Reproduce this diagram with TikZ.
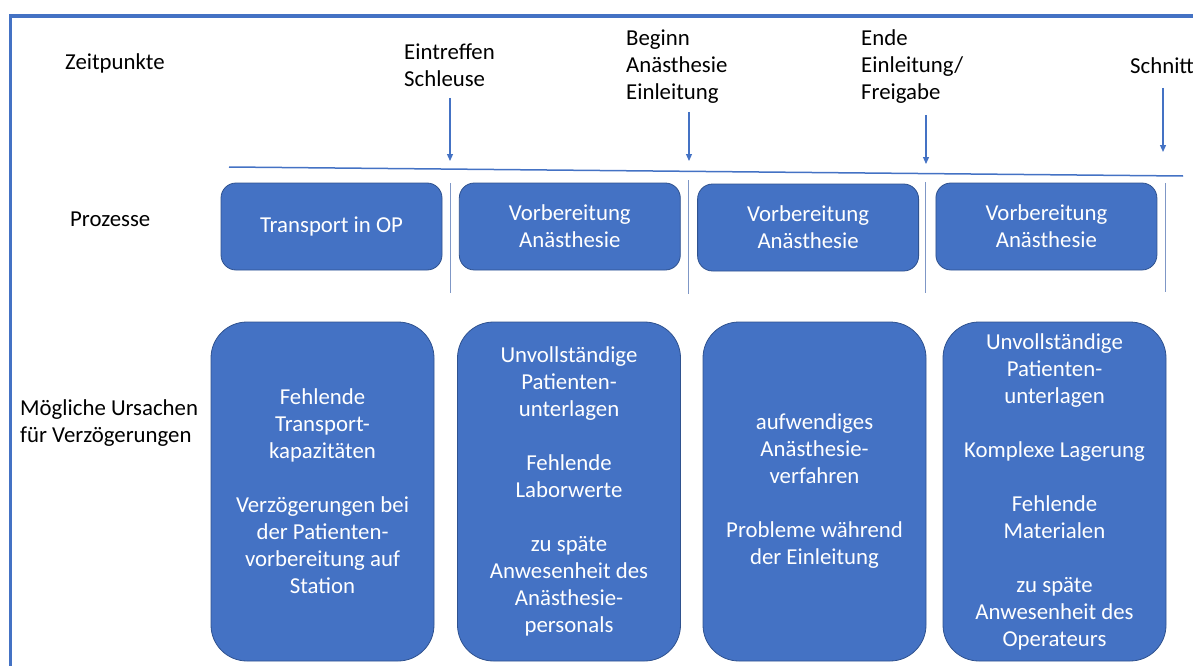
\documentclass[tikz,border=0pt]{standalone}
\usepackage{fontspec}
\setmainfont{Carlito}
\usepackage{xcolor}
\usetikzlibrary{positioning, arrows.meta}
\definecolor{officeblue}{HTML}{4472C4}
\definecolor{darkblue}{HTML}{2F528F}
\definecolor{sepblue}{HTML}{7F97C6}

\begin{document}
\begin{tikzpicture}[x=1pt, y=-1pt,
    every node/.style={font=\fontsize{22.8}{27}\selectfont},
    rowlabel/.style={align=left, inner sep=0pt, anchor=base west},
    procbox/.style={fill=officeblue, draw=darkblue, line width=0.8pt,
      rounded corners=15pt, text=white, align=center,
      minimum width=221pt, minimum height=87pt, inner sep=0pt},
    causebox/.style={procbox, rounded corners=36pt,
      minimum width=223pt, minimum height=339pt},
    marker/.style={officeblue, line width=1.2pt,
      -{Triangle[width=6pt, length=7pt]}},
    sepline/.style={sepblue, line width=1pt}]
  \useasboundingbox (0,0) rectangle (1193,666);
  \clip (0,0) rectangle (1193,666);

  % frame
  \draw[officeblue, line width=3.5pt] (10.5,670) -- (10.5,16) -- (1197,16);

  % row labels (base = last line)
  \node[rowlabel] (zeit) at (65,70) {Zeitpunkte};
  \node[rowlabel] (proz) at (70,226) {Prozesse};
  \node[rowlabel] (urs) at (20,442) {Mögliche Ursachen\\für Verzögerungen};

  % time points
  \node[rowlabel] (eintreffen) at (404,87) {Eintreffen\\Schleuse};
  \node[rowlabel] (beginn) at (626,100) {Beginn\\Anästhesie\\Einleitung};
  \node[rowlabel] (ende) at (861,100) {Ende\\Einleitung/\\Freigabe};
  \node[rowlabel] (schnitt) at (1130,74) {Schnitt};

  \coordinate (tl-start) at (229,167);
  \coordinate (tl-end) at (1183,176);
  \draw[officeblue, line width=1.5pt] (tl-start) -- (tl-end);

  \coordinate (eintreffen-a) at (450,98);
  \coordinate (eintreffen-b) at (450,161);
  \coordinate (beginn-a) at (689,112);
  \coordinate (beginn-b) at (689,161);
  \coordinate (ende-a) at (926,115);
  \coordinate (ende-b) at (926,164);
  \coordinate (schnitt-a) at (1163,88);
  \coordinate (schnitt-b) at (1163,152);
  \draw[marker] (eintreffen-a) -- (eintreffen-b);
  \draw[marker] (beginn-a) -- (beginn-b);
  \draw[marker] (ende-a) -- (ende-b);
  \draw[marker] (schnitt-a) -- (schnitt-b);

  % processes
  \node[procbox] (transport) at (331.5,226.5) {Transport in OP};
  \node[procbox, right=16.5pt of transport] (vorb1) {Vorbereitung\\Anästhesie};
  \node[procbox, right=16.5pt of vorb1, yshift=-1pt] (vorb2) {Vorbereitung\\Anästhesie};
  \node[procbox, right=16.5pt of vorb2, yshift=1pt] (vorb3) {Vorbereitung\\Anästhesie};

  \coordinate (sep1-a) at (450,183);
  \coordinate (sep1-b) at (450,293);
  \coordinate (sep2-a) at (688,180);
  \coordinate (sep2-b) at (688,294);
  \coordinate (sep3-a) at (925,182);
  \coordinate (sep3-b) at (925,293);
  \coordinate (sep4-a) at (1165,183);
  \coordinate (sep4-b) at (1165,292);
  \draw[sepline] (sep1-a) -- (sep1-b);
  \draw[sepline] (sep2-a) -- (sep2-b);
  \draw[sepline] (sep3-a) -- (sep3-b);
  \draw[sepline] (sep4-a) -- (sep4-b);

  % causes
  \node[causebox] (ursache1) at (322.5,491.5) {Fehlende\\Transport-\\kapazitäten\\[27pt]
    Verzögerungen bei\\der Patienten-\\vorbereitung auf\\Station};
  \node[causebox] (ursache2) at (569,491.5) {Unvollständige\\Patienten-\\unterlagen\\[27pt]
    Fehlende\\Laborwerte\\[27pt]
    zu späte\\Anwesenheit des\\Anästhesie-\\personals};
  \node[causebox] (ursache3) at (814.5,491.5) {aufwendiges\\Anästhesie-\\verfahren\\[27pt]
    Probleme während\\der Einleitung};
  \node[causebox] (ursache4) at (1054.5,491.5) {Unvollständige\\Patienten-\\unterlagen\\[27pt]
    Komplexe Lagerung\\[27pt]
    Fehlende\\Materialen\\[27pt]
    zu späte\\Anwesenheit des\\Operateurs};
\end{tikzpicture}
\end{document}
